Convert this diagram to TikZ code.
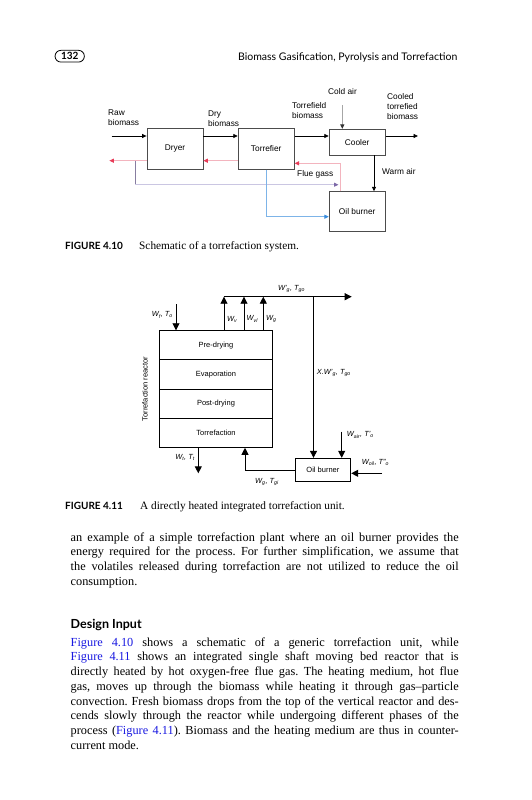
\documentclass[tikz,border=0pt]{standalone}
\usepackage{fontspec}
\setmainfont{Liberation Serif}
\setsansfont{Liberation Sans}
\newfontfamily\titolo{Lato}
\usetikzlibrary{arrows.meta,positioning}
\definecolor{fumi}{RGB}{243,180,190}
\definecolor{fumipunta}{RGB}{232,60,88}
\definecolor{aria}{RGB}{202,198,226}
\definecolor{ariascura}{RGB}{135,125,160}
\definecolor{ariapunta}{RGB}{125,105,168}
\definecolor{blu}{RGB}{125,180,232}
\definecolor{blupunta}{RGB}{55,140,222}
\definecolor{rif}{RGB}{25,25,225}
\tikzset{
  unita/.style  = {rectangle, draw=black!70, line width=0.8pt, inner sep=0, minimum width=56pt, minimum height=41pt, font=\sffamily\fontsize{8.3}{10}\selectfont},
  fr/.style     = {line width=0.8pt, -{Triangle[length=4.5pt,width=4pt]}},
  freddo/.style = {draw=black!35, line width=1pt, -{Triangle[length=4.5pt,width=4pt,color=black!80]}},
  fumo/.style   = {draw=fumi, line width=1pt, -{Triangle[length=4.5pt,width=4pt,color=fumipunta]}},
  ariaf/.style  = {draw=aria, line width=1pt, -{Triangle[length=4.5pt,width=4pt,color=ariapunta]}},
  bluf/.style   = {draw=blu, line width=1pt, -{Triangle[length=4.5pt,width=4pt,color=blupunta]}},
  et/.style     = {font=\sffamily\fontsize{8.3}{10}\selectfont, align=left, anchor=west, inner sep=0},
  fase/.style   = {rectangle, draw, line width=0.9pt, minimum width=113.4pt, minimum height=29.15pt, inner sep=0, font=\sffamily\fontsize{7.5}{9}\selectfont},
  forno/.style  = {rectangle, draw, line width=0.9pt, minimum width=55.7pt, minimum height=23.2pt, inner sep=0, font=\sffamily\fontsize{7.5}{9}\selectfont},
  frg/.style    = {line width=0.9pt, -{Triangle[length=7pt,width=7pt]}},
  var/.style    = {font=\sffamily\itshape\fontsize{7.4}{9}\selectfont, inner sep=0},
  pagina/.style = {draw, line width=0.8pt, rounded corners=5.8pt, minimum width=29.3pt, minimum height=11.7pt, inner sep=0, font=\titolo\bfseries\fontsize{10}{12}\selectfont},
  testata/.style= {anchor=base east, inner sep=0, font=\titolo\fontsize{10.5}{12.5}\selectfont},
  fignum/.style = {anchor=base west, inner sep=0, font=\titolo\bfseries\fontsize{10}{12}\selectfont},
  didas/.style  = {anchor=base west, inner sep=0, font=\fontsize{11.3}{13.5}\selectfont},
  corpo/.style  = {anchor=base west, inner sep=0, text width=388pt, align=justify, font=\fontsize{12.3}{14.75}\selectfont\frenchspacing},
  sezione/.style= {anchor=base west, inner sep=0, font=\titolo\bfseries\fontsize{12.5}{15}\selectfont}
}
\begin{document}
\begin{tikzpicture}[x=1pt,y=-1pt]
  \useasboundingbox[fill=white] (0,0) rectangle (531,800);

  % testata
  \node[pagina] (num) at (69.7,56.2) {132};
  \node[testata] (tit) at (457.5,61) {Biomass Gasification, Pyrolysis and Torrefaction};

  % figura 4.10
  \node[unita] (dry) at (175,148.8) {Dryer};
  \node[unita] (tor) at (266.2,148.8) {Torrefier};
  \node[unita, minimum height=25.7pt] (coo) at (357.2,142.2) {Cooler};
  \node[unita, minimum height=40pt] (bur) at (357.2,211.7) {Oil burner};

  \coordinate (raw) at (111.7,136);
  \draw[fr] (raw) -- (dry.west |- raw);
  \draw[fr] (dry.east |- raw) -- (tor.west |- raw);
  \draw[fr] (tor.east |- raw) -- (coo.west |- raw);
  \coordinate (cout) at (418,136);
  \draw[fr] (coo.east |- cout) -- (cout);
  \coordinate (cold) at (342.3,105);
  \draw[freddo] (cold) -- (cold |- coo.north);
  \coordinate (warm) at (374,0);
  \draw[fr] (warm |- coo.south) -- (warm |- bur.north);

  \coordinate (fout) at (109.3,160.7);
  \draw[fumo] (tor.west |- fout) -- (dry.east |- fout);
  \draw[fumo] (dry.west |- fout) -- (fout);
  \coordinate (fin) at (340,163.3);
  \draw[fumo] (fin |- bur.north) -- (fin) -- (tor.east |- fin);

  \coordinate (asplit) at (135,160.7);
  \coordinate (aend) at (338.5,184.7);
  \draw[draw=ariascura, line width=1pt] (asplit) -- (asplit |- aend);
  \draw[ariaf] (asplit |- aend) -- (aend);

  \coordinate (bl) at (266.7,216.7);
  \draw[bluf] (bl |- tor.south) -- (bl) -- (bur.west |- bl);

  \node[et] (lraw)  at (108,117.5) {Raw\\biomass};
  \node[et] (ldry)  at (208,119) {Dry\\biomass};
  \node[et] (ltor)  at (292,110.5) {Torrefield\\biomass};
  \node[et] (lcold) at (328,92) {Cold air};
  \node[et] (lcool) at (387,106.5) {Cooled\\torrefied\\biomass};
  \node[et] (lflue) at (297,174) {Flue gass};
  \node[et] (lwarm) at (382,172) {Warm air};

  \node[fignum] (f410) at (65,249) {FIGURE 4.10};
  \node[didas]  (c410) at (139,249) {Schematic of a torrefaction system.};

  % figura 4.11
  \node[fase] (pre)  at (216,345.3) {Pre-drying};
  \node[fase] (eva)  at (216,374.45) {Evaporation};
  \node[fase] (post) at (216,403.6) {Post-drying};
  \node[fase] (torr) at (216,432.75) {Torrefaction};
  \node[rotate=90, inner sep=0, font=\sffamily\fontsize{7.5}{9}\selectfont] (reat) at (145,389) {Torrefaction reactor};
  \node[forno] (ob) at (322.9,469.9) {Oil burner};

  \coordinate (wv)   at (224,296.7);
  \coordinate (wvl)  at (244,296.7);
  \coordinate (wg)   at (263.3,296.7);
  \coordinate (gout) at (351.7,296.7);
  \coordinate (xs)   at (313.5,296.7);
  \draw[frg] (wv |- pre.north) -- (wv);
  \draw[frg] (wvl |- pre.north) -- (wvl);
  \draw[frg] (wg |- pre.north) -- (wg);
  \draw[frg] (wv) -- (gout);
  \draw[frg] (xs) -- (xs |- ob.north);

  \coordinate (wf) at (176,304);
  \draw[frg] (wf) -- (wf |- pre.north);
  \coordinate (wair) at (341.7,431.7);
  \draw[frg] (wair) -- (wair |- ob.north);
  \coordinate (woil) at (382,473.3);
  \draw[frg] (woil) -- (ob.east |- woil);
  \coordinate (wt) at (198.3,473.3);
  \draw[frg] (wt |- torr.south) -- (wt);
  \coordinate (gi) at (245,470.7);
  \draw[frg] (ob.west |- gi) -- (gi) -- (gi |- torr.south);

  \node[var, anchor=east] (lwf)  at (173,315) {W\textsubscript{f}, T\textsubscript{o}};
  \node[var, anchor=west] (lwv)  at (227,319) {W\textsubscript{v}};
  \node[var, anchor=west] (lwvl) at (246.5,319) {W\textsubscript{vl}};
  \node[var, anchor=west] (lwg)  at (266,319) {W\textsubscript{g}};
  \node[var] (lgo) at (291.5,288.5) {W'\textsubscript{g}, T\textsubscript{go}};
  \node[var, anchor=west] (lx)   at (316.7,373.3) {X.W'\textsubscript{g}, T\textsubscript{go}};
  \node[var, anchor=west] (lair) at (346.7,435) {W\textsubscript{air}, T'\textsubscript{o}};
  \node[var, anchor=west] (loil) at (361.7,462.7) {W\textsubscript{oil}, T''\textsubscript{o}};
  \node[var, anchor=east] (lwt)  at (195,457) {W\textsubscript{t}, T\textsubscript{t}};
  \node[var, anchor=west] (lgi)  at (255,482) {W\textsubscript{g}, T\textsubscript{gi}};

  \node[fignum] (f411) at (65,509) {FIGURE 4.11};
  \node[didas]  (c411) at (140,509) {A directly heated integrated torrefaction unit.};

  % testo
  \node[corpo] (par1) at (70.5,541) {\hyphenpenalty=10000 an example of a simple torrefaction plant where an oil burner provides the\linebreak
    energy required for the process. For further simplification, we assume that\linebreak
    the volatiles released during torrefaction are not utilized to reduce the oil\linebreak
    consumption.};
  \node[sezione] (din) at (70.5,628) {Design Input};
  \node[corpo] (par2) at (70.5,646) {\hyphenpenalty=10000 \textcolor{rif}{Figure 4.10} shows a schematic of a generic torrefaction unit, while\linebreak
    \textcolor{rif}{Figure 4.11} shows an integrated single shaft moving bed reactor that is\linebreak
    directly heated by hot oxygen-free flue gas. The heating medium, hot flue\linebreak
    gas, moves up through the biomass while heating it through gas--particle\linebreak
    convection. Fresh biomass drops from the top of the vertical reactor and des-\linebreak
    cends slowly through the reactor while undergoing different phases of the\linebreak
    process (\textcolor{rif}{Figure 4.11}). Biomass and the heating medium are thus in counter-\linebreak
    current mode.};
\end{tikzpicture}
\end{document}
